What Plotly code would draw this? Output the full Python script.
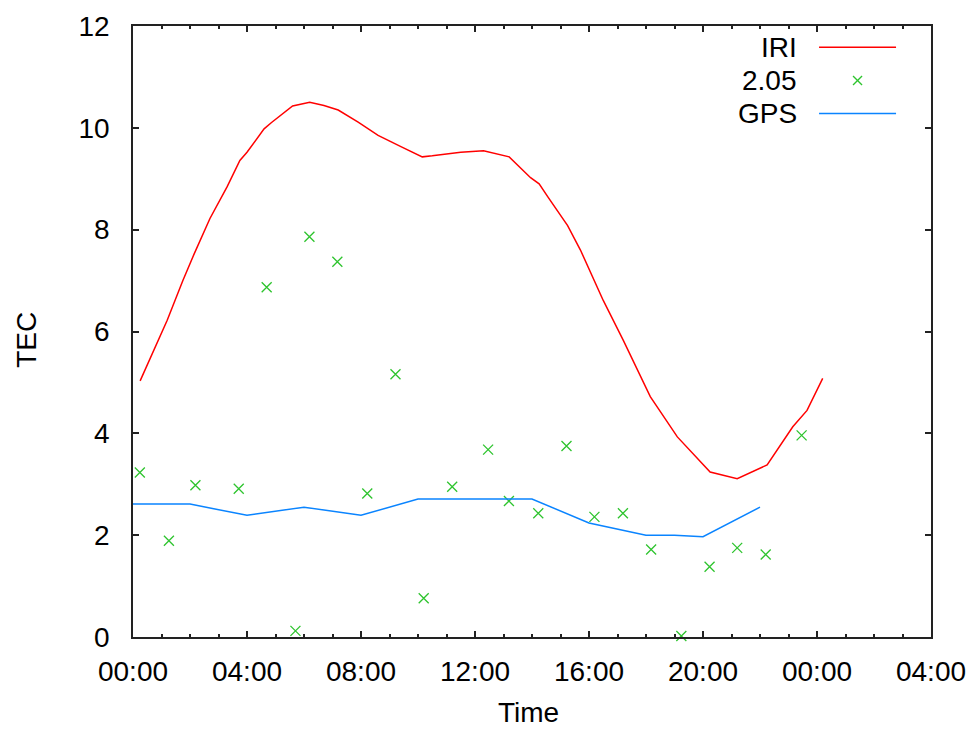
import plotly.graph_objects as go

# ---- data (time in hours from 00:00) ----
iri_hours = [0.25, 0.8, 1.2, 1.75, 2.15, 2.7, 3.3, 3.75, 4.0, 4.6, 4.85, 5.6, 6.2,
             6.7, 7.2, 7.9, 8.6, 9.4, 10.15, 10.5, 11.5, 12.3, 12.95, 13.2, 13.95,
             14.25, 14.55, 15.0, 15.25, 15.7, 16.5, 17.2, 18.15, 19.1, 19.75, 20.25,
             21.2, 22.25, 23.15, 23.65, 24.2]
iri_tec = [5.03, 5.70, 6.22, 7.0, 7.53, 8.22, 8.84, 9.36, 9.52, 9.98, 10.1, 10.43, 10.5,
           10.44, 10.35, 10.11, 9.85, 9.63, 9.43, 9.45, 9.52, 9.55, 9.46, 9.43, 9.02,
           8.9, 8.65, 8.28, 8.08, 7.6, 6.61, 5.83, 4.72, 3.93, 3.54, 3.24,
           3.11, 3.38, 4.13, 4.45, 5.08]

obs_hours = [0.24, 1.26, 2.19, 3.71, 4.69, 5.70, 6.19, 7.17, 8.22, 9.21, 10.2, 11.2,
             12.46, 13.19, 14.22, 15.21, 16.19, 17.19, 18.18, 19.24, 20.23, 21.2, 22.2, 23.46]
obs_tec = [3.23, 1.89, 2.98, 2.91, 6.87, 0.12, 7.86, 7.37, 2.82, 5.16, 0.76, 2.95,
           3.68, 2.67, 2.43, 3.75, 2.36, 2.43, 1.72, 0.02, 1.38, 1.75, 1.62, 3.96]

gps_hours = [0, 2, 4, 6, 8, 10, 12, 14, 16, 18, 19, 20, 22]
gps_tec = [2.61, 2.61, 2.39, 2.55, 2.39, 2.71, 2.71, 2.71, 2.24, 2.0, 2.0, 1.97, 2.55]

series_names = ["IRI", "2.05", "GPS"]
series_colors = ["#ff0000", "#2ec42e", "#0a84ff"]

tick_hours = [0, 4, 8, 12, 16, 20, 24, 28]
tick_labels = ["00:00", "04:00", "08:00", "12:00", "16:00", "20:00", "00:00", "04:00"]

FONT = "Liberation Sans"
FS = 28

# plot-area size in pixels, used to place the key in paper units
PW, PH = 798.5, 611.5

fig = go.Figure()
fig.add_trace(go.Scatter(x=iri_hours, y=iri_tec, mode="lines", name=series_names[0],
                         line=dict(color=series_colors[0], width=1.5), showlegend=False))
fig.add_trace(go.Scatter(x=obs_hours, y=obs_tec, mode="markers", name=series_names[1],
                         marker=dict(symbol="x-thin", size=10,
                                     line=dict(color=series_colors[1], width=1.3)),
                         cliponaxis=False, showlegend=False))
fig.add_trace(go.Scatter(x=gps_hours, y=gps_tec, mode="lines", name=series_names[2],
                         line=dict(color=series_colors[2], width=1.5), showlegend=False))

# key in the upper right: label, then sample
key_rows_y = [0.9653, 0.9107, 0.8568]
key_text_x = 0.8347
key_x0, key_x1 = 0.8597, 0.9562
annotations = []
shapes = []
for name, col, ky, kind in zip(series_names, series_colors, key_rows_y,
                               ["line", "marker", "line"]):
    annotations.append(dict(x=key_text_x, y=ky, xref="paper", yref="paper",
                            text=name, showarrow=False, xanchor="right", yanchor="middle",
                            font=dict(family=FONT, size=FS, color="#000")))
    if kind == "line":
        shapes.append(dict(type="line", xref="paper", yref="paper",
                           x0=key_x0, x1=key_x1, y0=ky, y1=ky,
                           line=dict(color=col, width=1.5)))
    else:
        cx = (key_x0 + key_x1) / 2
        dx, dy = 4.5 / PW, 4.5 / PH
        shapes.append(dict(type="line", xref="paper", yref="paper",
                           x0=cx - dx, x1=cx + dx, y0=ky - dy, y1=ky + dy,
                           line=dict(color=col, width=1.3)))
        shapes.append(dict(type="line", xref="paper", yref="paper",
                           x0=cx - dx, x1=cx + dx, y0=ky + dy, y1=ky - dy,
                           line=dict(color=col, width=1.3)))

# axis titles
annotations.append(dict(x=0, y=0.4857, xref="paper", yref="paper", text="TEC",
                        textangle=-90, showarrow=False, xanchor="center", yanchor="middle",
                        xshift=-106.5, font=dict(family=FONT, size=FS, color="#000")))
annotations.append(dict(x=0.4953, y=0, xref="paper", yref="paper", text="Time",
                        showarrow=False, xanchor="center", yanchor="middle",
                        yshift=-75, font=dict(family=FONT, size=FS, color="#000")))

axis_common = dict(showgrid=False, zeroline=False, showline=True, linecolor="#222",
                   linewidth=1.5, mirror="allticks", ticks="inside", tickcolor="#222",
                   tickwidth=1.5, ticklen=6, automargin=False,
                   tickfont=dict(family=FONT, size=FS, color="#000"))

fig.update_layout(
    width=968, height=729,
    margin=dict(l=132.5, r=37, t=25.5, b=92, autoexpand=False),
    paper_bgcolor="white", plot_bgcolor="white",
    xaxis=dict(range=[0, 28], tickmode="array", tickvals=tick_hours, ticktext=tick_labels,
               minor=dict(dtick=1, tick0=0, ticks="inside", ticklen=3, tickcolor="#222",
                          tickwidth=1.5, showgrid=False),
               ticklabelstandoff=9, **axis_common),
    yaxis=dict(range=[0, 12], dtick=2, tick0=0, ticklabelstandoff=16, **axis_common),
    annotations=annotations, shapes=shapes,
)

fig.write_html("out.html")
